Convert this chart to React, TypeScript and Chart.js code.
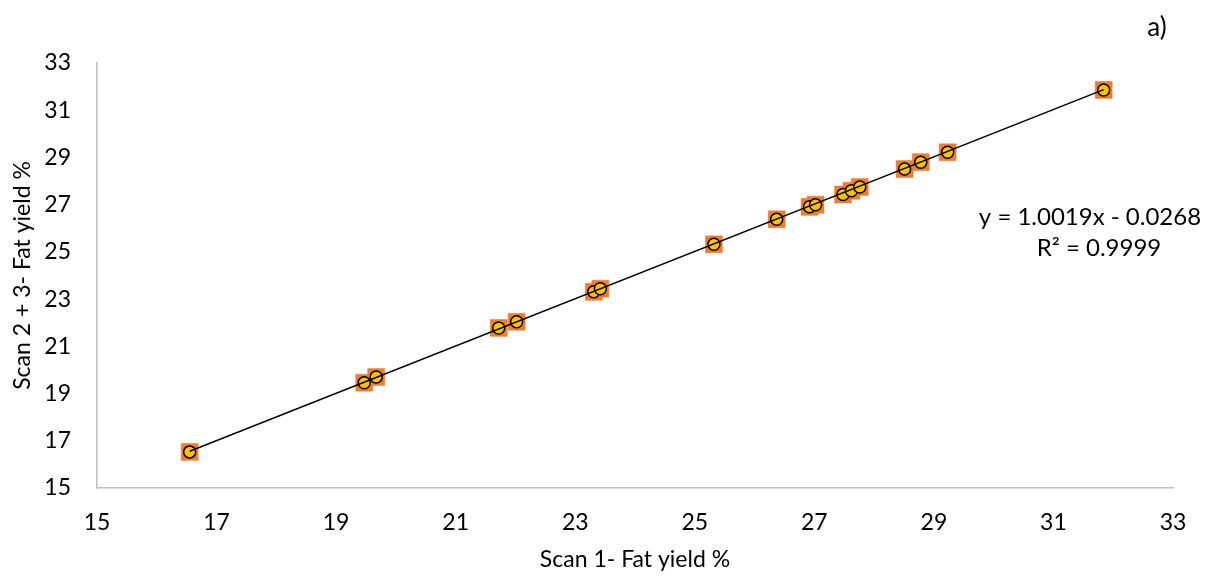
import { useEffect, useRef } from "react";
import { Chart, registerables } from "chart.js";

Chart.register(...registerables);

// Scan 1 fat yield (%) and Scan 2 + 3 fat yield (%)
const scan1 = [16.55, 19.47, 19.67, 21.72, 22.02, 23.31, 23.42, 25.32, 26.37, 26.92, 27.02, 27.48, 27.62, 27.76, 28.51, 28.78, 29.23, 31.84];
const scan23 = [16.53, 19.46, 19.7, 21.78, 22.04, 23.31, 23.44, 25.32, 26.38, 26.91, 27.0, 27.43, 27.59, 27.75, 28.51, 28.8, 29.22, 31.86];

const axisMin = 15;
const axisMax = 33;
const axisStep = 2;

const slope = 1.0019;
const intercept = -0.0268;
const rSquared = "0.9999";

const panelLabel = "a)";
const xTitle = "Scan 1- Fat yield %";
const yTitle = "Scan 2 + 3- Fat yield %";
const equationText = `y = ${slope.toFixed(4)}x - ${Math.abs(intercept).toFixed(4)}`;
const r2Text = `R\u00B2 = ${rSquared}`;

const FONT = "Lato, 'Noto Sans', sans-serif";

export default function App() {
  const ref = useRef<HTMLCanvasElement | null>(null);

  useEffect(() => {
    if (!ref.current) return;
    const pts = scan1.map((x, i) => ({ x, y: scan23[i] }));
    const xMin = Math.min(...scan1);
    const xMax = Math.max(...scan1);
    const trend = [
      { x: xMin, y: slope * xMin + intercept },
      { x: xMax, y: slope * xMax + intercept },
    ];

    const textPlugin = {
      id: "annotText",
      afterDraw(chart: any) {
        const ctx = chart.ctx as CanvasRenderingContext2D;
        ctx.save();
        ctx.fillStyle = "#000";
        ctx.textAlign = "center";
        ctx.textBaseline = "middle";
        ctx.font = `24px ${FONT}`;
        ctx.fillText(equationText, 1082, 209);
        ctx.fillText(r2Text, 1091, 240);
        ctx.font = `26px ${FONT}`;
        ctx.fillText(panelLabel, 1149, 20);
        ctx.restore();
      },
    };

    const chart = new Chart(ref.current, {
      type: "scatter",
      data: {
        datasets: [
          {
            label: "trend",
            type: "line",
            data: trend,
            borderColor: "#000",
            borderWidth: 1.5,
            pointRadius: 0,
            fill: false,
            order: 0,
          } as any,
          {
            label: "circles",
            data: pts,
            pointStyle: "circle",
            pointRadius: 6,
            backgroundColor: "#FFC000",
            borderColor: "#000",
            borderWidth: 1.5,
            order: 1,
          },
          {
            label: "squares",
            data: pts,
            pointStyle: "rect",
            pointRadius: 12,
            backgroundColor: "#ED7D31",
            borderColor: "rgba(237,125,49,0.5)",
            borderWidth: 1,
            order: 2,
          },
        ],
      },
      options: {
        animation: false,
        responsive: true,
        maintainAspectRatio: false,
        layout: { padding: { top: 55, right: 38, left: 0, bottom: 0 } },
        plugins: {
          legend: { display: false },
          tooltip: { enabled: false },
        },
        scales: {
          x: {
            type: "linear",
            min: axisMin,
            max: axisMax,
            afterFit: (s: any) => {
              s.height = 85;
            },
            ticks: {
              stepSize: axisStep,
              color: "#000",
              padding: 21,
              font: { family: FONT, size: 23 },
            },
            grid: { display: false, drawTicks: false },
            border: { display: true, color: "#BFBFBF", width: 1.5 },
            title: {
              display: true,
              text: xTitle,
              color: "#000",
              font: { family: FONT, size: 23 },
              padding: { top: 0, bottom: 0 },
            },
          },
          y: {
            type: "linear",
            min: axisMin,
            max: axisMax,
            afterFit: (s: any) => {
              s.width = 89;
            },
            ticks: {
              stepSize: axisStep,
              color: "#000",
              padding: 26,
              font: { family: FONT, size: 23 },
            },
            grid: { display: false, drawTicks: false },
            border: { display: true, color: "#BFBFBF", width: 1.5 },
            title: {
              display: true,
              text: yTitle,
              color: "#000",
              font: { family: FONT, size: 23 },
              padding: { top: 1, bottom: 0 },
            },
          },
        },
      },
      plugins: [textPlugin],
    });
    return () => chart.destroy();
  }, []);

  return (
    <div style={{ width: 1203, height: 565, position: "relative" }}>
      <canvas ref={ref} />
    </div>
  );
}
